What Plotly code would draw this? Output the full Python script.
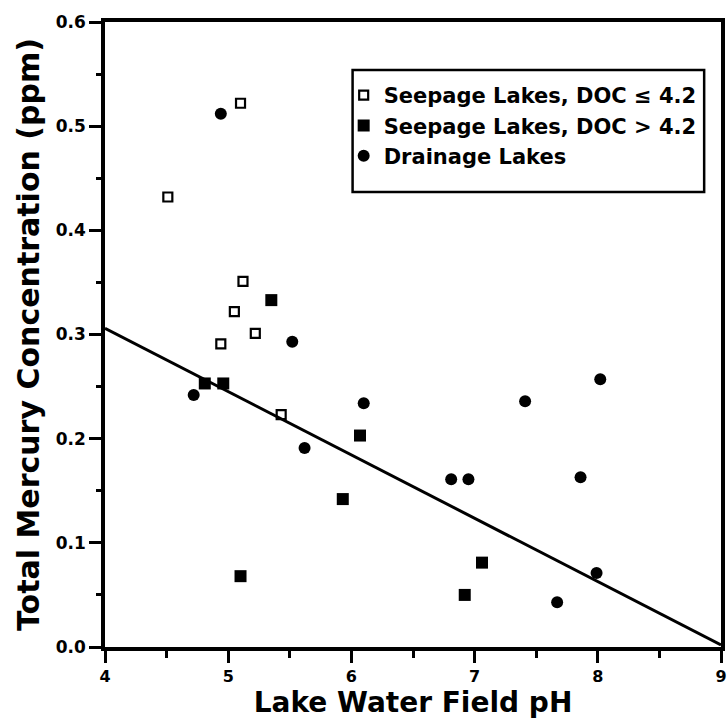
import plotly.graph_objects as go

# Seepage lakes, DOC <= 4.2 (open squares)
seep_low_ph = [4.51, 5.10, 5.12, 5.05, 4.94, 5.22, 5.43]
seep_low_hg = [0.432, 0.522, 0.351, 0.322, 0.291, 0.301, 0.223]

# Seepage lakes, DOC > 4.2 (filled squares)
seep_high_ph = [5.35, 4.81, 4.96, 6.07, 5.93, 5.10, 6.92, 7.06]
seep_high_hg = [0.333, 0.253, 0.253, 0.203, 0.142, 0.068, 0.050, 0.081]

# Drainage lakes (filled circles)
drain_ph = [4.94, 5.52, 4.72, 5.62, 6.10, 6.81, 6.95, 7.41, 7.86, 8.02, 7.99, 7.67]
drain_hg = [0.512, 0.293, 0.242, 0.191, 0.234, 0.161, 0.161, 0.236, 0.163, 0.257, 0.071, 0.043]

# Regression line
fit_ph = [4.0, 9.0]
fit_hg = [0.306, 0.002]

x_ticks = [4, 5, 6, 7, 8, 9]
x_minor = [4.5, 5.5, 6.5, 7.5, 8.5]
y_ticks = [0.0, 0.1, 0.2, 0.3, 0.4, 0.5, 0.6]
y_minor = [0.05, 0.15, 0.25, 0.35, 0.45, 0.55]

FONT = "DejaVu Sans, Liberation Sans, Arial, sans-serif"

fig = go.Figure()
fig.add_trace(go.Scatter(x=fit_ph, y=fit_hg, mode="lines",
                         line=dict(color="black", width=3),
                         showlegend=False, hoverinfo="skip"))
fig.add_trace(go.Scatter(x=seep_low_ph, y=seep_low_hg, mode="markers",
                         name="Seepage Lakes, DOC \u2264 4.2",
                         marker=dict(symbol="square-open", size=9, color="black",
                                     line=dict(width=2.2, color="black"))))
fig.add_trace(go.Scatter(x=seep_high_ph, y=seep_high_hg, mode="markers",
                         name="Seepage Lakes, DOC > 4.2",
                         marker=dict(symbol="square", size=12, color="black")))
fig.add_trace(go.Scatter(x=drain_ph, y=drain_hg, mode="markers",
                         name="Drainage Lakes",
                         marker=dict(symbol="circle", size=12, color="black")))

# legend frame (pixel-to-paper conversion of the plot area 105..727 x 22..647)
PW = 727 - 105
fig.add_shape(type="rect", xref="paper", yref="paper",
              x0=(355 - 105) / PW, x1=(710 - 105) / PW,
              y0=(647 - 192) / 625, y1=(647 - 70) / 625,
              line=dict(color="black", width=2.5), fillcolor="rgba(0,0,0,0)")

fig.update_layout(
    width=727, height=719,
    margin=dict(l=105, r=0, t=22, b=72),
    paper_bgcolor="white", plot_bgcolor="white",
    font=dict(family=FONT, color="black"),
    legend=dict(x=(346 - 105) / PW, y=(647 - 75) / 625, xanchor="left", yanchor="top",
                borderwidth=0, bgcolor="rgba(0,0,0,0)",
                font=dict(family=FONT, size=21, color="black", weight="bold"),
                itemsizing="trace", tracegroupgap=0),
)
fig.update_xaxes(range=[4, 9], tickmode="array", tickvals=x_ticks, ticktext=[str(v) for v in x_ticks],
                 showgrid=False, zeroline=False,
                 showline=True, linecolor="black", linewidth=3.5, mirror=True,
                 ticks="outside", ticklen=12, tickwidth=3, tickcolor="black",
                 ticklabeloverflow="allow",
                 minor=dict(tickmode="array", tickvals=x_minor,
                            ticks="outside", ticklen=7, tickwidth=3, tickcolor="black"),
                 tickfont=dict(family=FONT, size=16, color="black", weight="bold"),
                 title=dict(text="Lake Water Field pH", standoff=4,
                            font=dict(family=FONT, size=28, color="black", weight="bold")))
fig.update_yaxes(range=[0, 0.6], tickmode="array", tickvals=y_ticks, ticktext=[f"{v:.1f}" for v in y_ticks],
                 showgrid=False, zeroline=False,
                 showline=True, linecolor="black", linewidth=3.5, mirror=True,
                 ticks="outside", ticklen=12, tickwidth=3, tickcolor="black",
                 minor=dict(tickmode="array", tickvals=y_minor,
                            ticks="outside", ticklen=5, tickwidth=3, tickcolor="black"),
                 tickfont=dict(family=FONT, size=17, color="black", weight="bold"),
                 title=dict(text="Total Mercury Concentration (ppm)", standoff=8,
                            font=dict(family=FONT, size=30, color="black", weight="bold")))

fig.write_html("out.html")
